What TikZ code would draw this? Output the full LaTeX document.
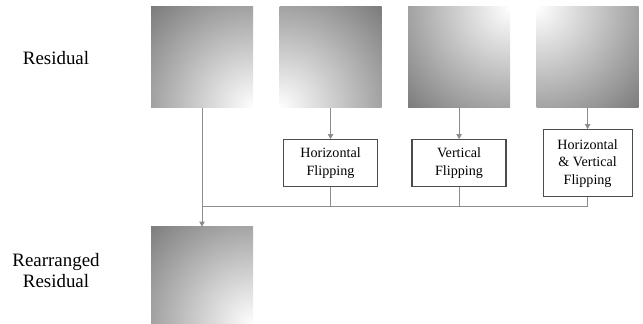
\documentclass[tikz,border=0pt]{standalone}
\usepackage{fontspec}
\setmainfont{Liberation Serif}
\usepackage{tikz}
\usetikzlibrary{arrows.meta,positioning,calc}

\tikzset{
  patch/.style={minimum width=76.5pt,minimum height=75.75pt,inner sep=0pt,
    path picture={\shade[inner color=white,outer color=black!55]
      (path picture bounding box.#1) circle (115pt);}},
  flipbox/.style={draw=black!70,line width=0.9pt,fill=white,align=center,
    inner sep=2pt,font=\fontsize{10.6}{13.2}\selectfont},
  link/.style={draw=black!45,line width=0.7pt},
  lbl/.style={align=center,font=\fontsize{14.2}{15.8}\selectfont}
}

\begin{document}
\begin{tikzpicture}[x=0.75pt,y=-0.75pt,node distance=19.5pt,
  >={Triangle[width=4pt,length=3.8pt]}]
\useasboundingbox (0,0) rectangle (643,324);
% residual and its flipped copies
\node[patch=south east] (res) at (202,57.5) {};
\node[patch=south west,right=of res] (hres) {};
\node[patch=north east,right=of hres] (vres) {};
\node[patch=north west,right=of vres] (hvres) {};
\node[patch=south east,minimum height=73pt,anchor=north] (rear) at (202,226.7) {};
\node[lbl] (tres) at (56,58) {Residual};
\node[lbl] (trear) at (56,270.5) {Rearranged\\Residual};
% flipping steps
\node[flipbox,minimum width=70.5pt,minimum height=35.25pt,below=41.25pt of hres.south,anchor=center] (hflip) {Horizontal\\Flipping};
\node[flipbox,minimum width=70.5pt,minimum height=35.25pt,below=41.25pt of vres.south,anchor=center] (vflip) {Vertical\\Flipping};
\node[flipbox,minimum width=66.75pt,minimum height=50.25pt,below=41.25pt of hvres.south,anchor=center] (hvflip) {Horizontal\\\&~Vertical\\Flipping};
\coordinate (merge) at ($(res.south)+(0,98.7)$);
\draw[link,->] (hres) -- (hflip);
\draw[link,->] (vres) -- (vflip);
\draw[link,->] (hvres) -- (hvflip);
\draw[link] (hflip) |- (merge); \draw[link] (vflip) |- (merge); \draw[link] (hvflip) |- (merge);
\draw[link,->] (res) -- (rear);
\end{tikzpicture}
\end{document}
